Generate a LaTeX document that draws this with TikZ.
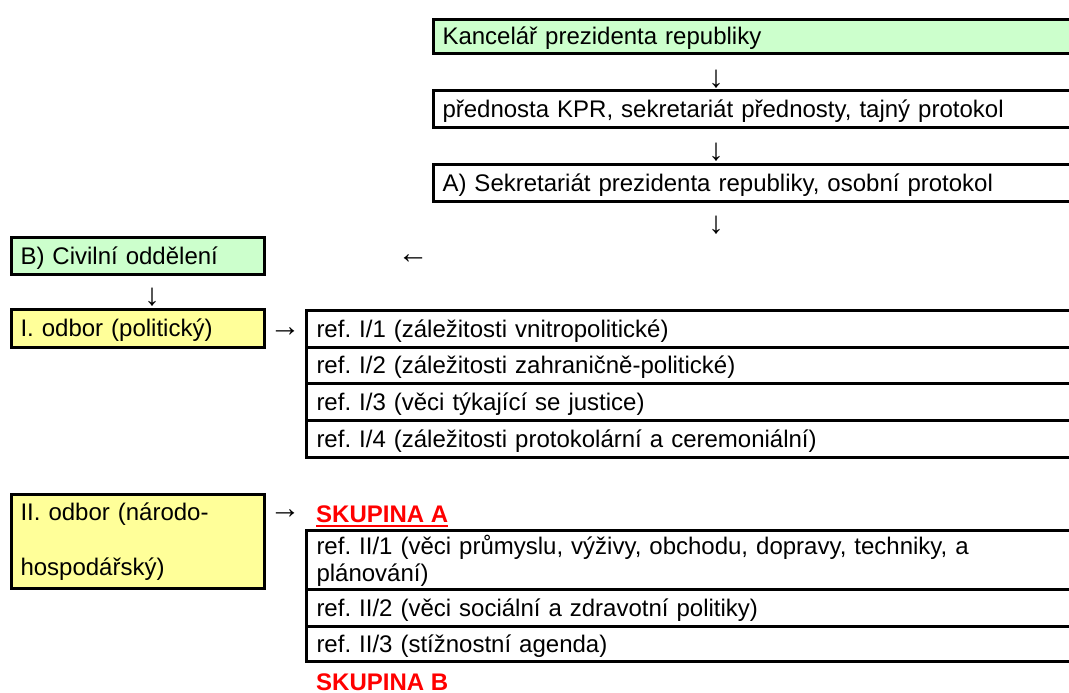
\documentclass[tikz,border=0pt]{standalone}
\usepackage{fontspec}
\setmainfont{Liberation Sans}
\definecolor{kgreen}{HTML}{CCFFCC}
\definecolor{kyellow}{HTML}{FFFF99}
\definecolor{kred}{HTML}{FF0000}
\begin{document}
\frenchspacing
\begin{tikzpicture}[x=1pt,y=-1pt,
  every node/.style={font=\fontsize{24}{28}\selectfont},
  cell/.style={draw=black, line width=3pt, anchor=north west, inner xsep=9pt, inner ysep=0pt, align=left},
  onel/.style={text depth=1pt},
  topcell/.style={cell, onel, minimum width=660pt, text width=642pt, minimum height=#1},
  leftcell/.style={cell, minimum width=253pt, text width=235pt},
  refcell/.style={cell, inner xsep=10pt, minimum width=780pt, text width=760pt},
  glyph/.style={inner sep=0pt, font=\fontsize{31}{34}\selectfont},
  grouplabel/.style={anchor=base west, inner sep=0pt, text=kred, font=\fontsize{24}{28}\selectfont\bfseries}
]
\useasboundingbox (0,0) rectangle (1069,693);
\clip (0,0) rectangle (1069,693);

% top column
\node[topcell=34pt, fill=kgreen] (kpr) at (432,18) {Kancelář prezidenta republiky};
\node[glyph] (d1) at (716,79) {↓};
\node[topcell=37pt] (pred) at (432,89) {přednosta KPR, sekretariát přednosty, tajný protokol};
\node[glyph] (d2) at (716,152) {↓};
\node[topcell=37pt] (sekr) at (432,163) {A) Sekretariát prezidenta republiky, osobní protokol};
\node[glyph] (d3) at (716,225) {↓};

% civil department
\node[leftcell, onel, fill=kgreen, minimum height=37pt] (civ) at (10,236) {B) Civilní oddělení};
\node[glyph] (l1) at (413,259) {←};
\node[glyph] (d4) at (152,297) {↓};

% I. odbor
\node[leftcell, onel, fill=kyellow, minimum height=38pt] (o1) at (10,308) {I. odbor (politický)};
\node[glyph] (r1) at (285,332) {→};
\node[refcell, onel, minimum height=37pt] (i1) at (305,309) {ref. I/1 (záležitosti vnitropolitické)};
\node[refcell, onel, minimum height=36pt] (i2) at (305,346) {ref. I/2 (záležitosti zahraničně-politické)};
\node[refcell, onel, minimum height=37pt] (i3) at (305,382) {ref. I/3 (věci týkající se justice)};
\node[refcell, onel, minimum height=37pt] (i4) at (305,419) {ref. I/4 (záležitosti protokolární a ceremoniální)};

% II. odbor
\node[leftcell, fill=kyellow, minimum height=94pt, font=\fontsize{24}{55}\selectfont] (o2) at (10,493) {II. odbor (národo-\\hospodářský)};
\node[glyph] (r2) at (285,514) {→};
\node[grouplabel] (skA) at (316,522) {SKUPINA A};
\draw[kred, line width=2.5pt] ([yshift=-4pt]skA.base west) -- ([yshift=-4pt]skA.base east);
\node[refcell, minimum height=59pt, font=\fontsize{24}{27}\selectfont] (ii1) at (305,529) {\rule{0pt}{21pt}ref. II/1 (věci průmyslu, výživy, obchodu, dopravy, techniky, a\\plánování)};
\node[refcell, onel, minimum height=37pt] (ii2) at (305,588) {ref. II/2 (věci sociální a zdravotní politiky)};
\node[refcell, onel, minimum height=35pt] (ii3) at (305,625) {ref. II/3 (stížnostní agenda)};
\node[grouplabel] (skB) at (316,690) {SKUPINA B};
\end{tikzpicture}
\end{document}
